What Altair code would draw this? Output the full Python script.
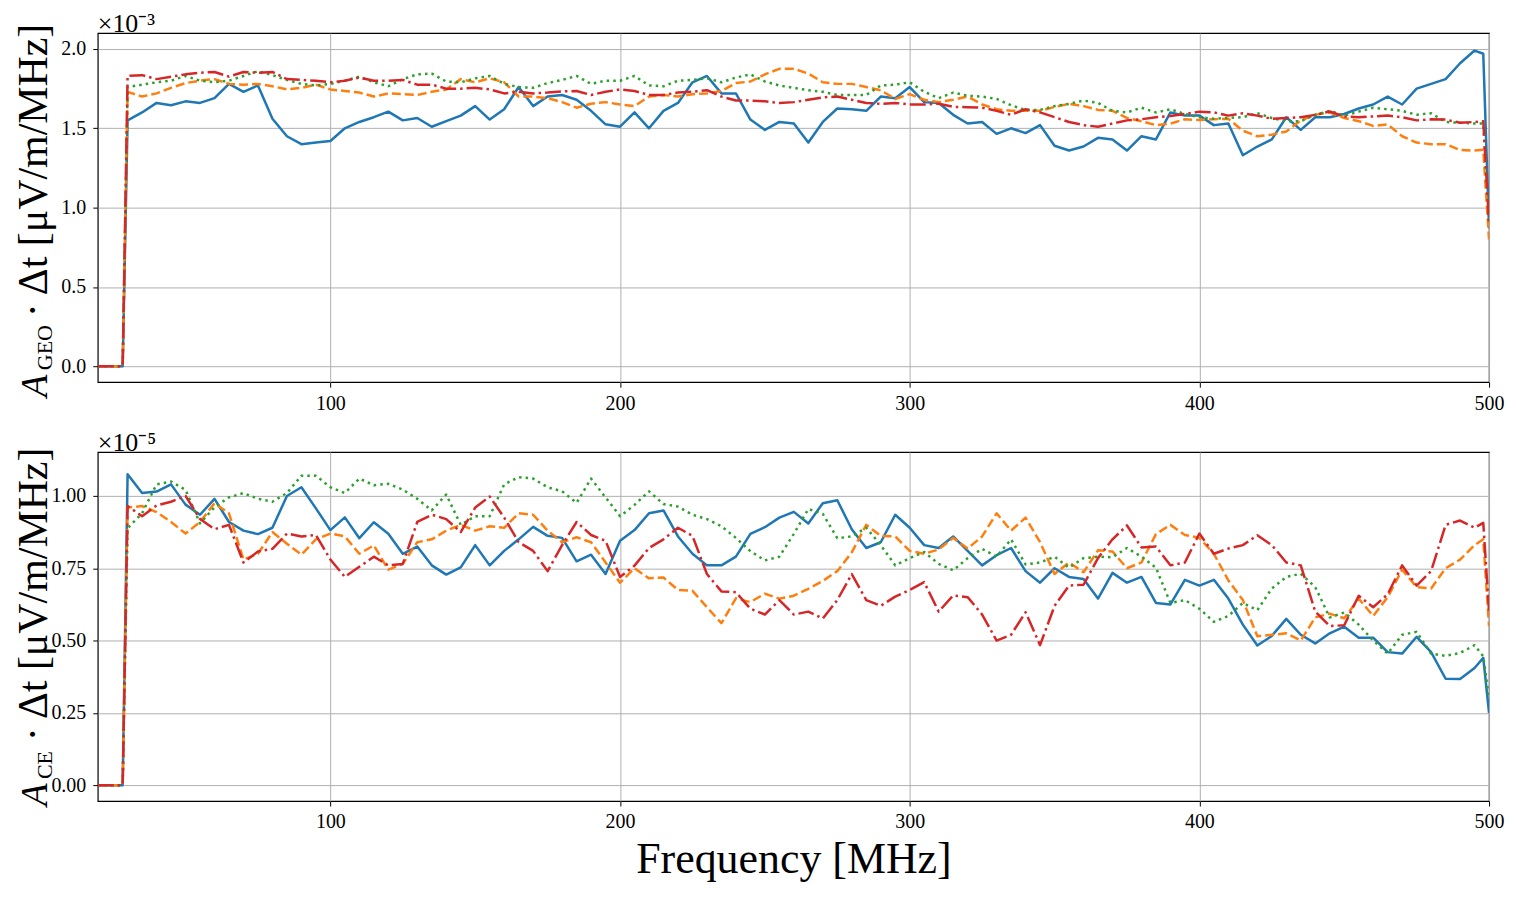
import altair as alt
import pandas as pd

# Frequency samples [MHz]
FREQ = [19.7, 22.5, 25.4, 28.3,
        30, 35, 40, 45, 50, 55, 60, 65, 70, 75,
        80, 85, 90, 95, 100, 105, 110, 115, 120, 125,
        130, 135, 140, 145, 150, 155, 160, 165, 170, 175,
        180, 185, 190, 195, 200, 205, 210, 215, 220, 225,
        230, 235, 240, 245, 250, 255, 260, 265, 270, 275,
        280, 285, 290, 295, 300, 305, 310, 315, 320, 325,
        330, 335, 340, 345, 350, 355, 360, 365, 370, 375,
        380, 385, 390, 395, 400, 405, 410, 415, 420, 425,
        430, 435, 440, 445, 450, 455, 460, 465, 470, 475,
        480, 485, 490, 495,
        498, 500]

# A_GEO * dt  (units of 1e-3 uV/m/MHz)
GEO_BLUE = [0, 0, 0, 0,
            1.55, 1.60, 1.66, 1.645, 1.67, 1.66, 1.69, 1.78, 1.73, 1.77,
            1.56, 1.45, 1.40, 1.41, 1.42, 1.50, 1.54, 1.57, 1.605, 1.55,
            1.565, 1.51, 1.545, 1.58, 1.64, 1.555, 1.62, 1.76, 1.64, 1.70,
            1.71, 1.68, 1.61, 1.525, 1.51, 1.60, 1.50, 1.61, 1.66, 1.79,
            1.83, 1.72, 1.72, 1.555, 1.49, 1.54, 1.53, 1.41, 1.54, 1.625,
            1.62, 1.61, 1.70, 1.69, 1.76, 1.665, 1.66, 1.585, 1.53, 1.54,
            1.465, 1.50, 1.47, 1.52, 1.39, 1.36, 1.385, 1.44, 1.43, 1.36,
            1.45, 1.43, 1.60, 1.58, 1.58, 1.52, 1.53, 1.33, 1.385, 1.43,
            1.57, 1.49, 1.57, 1.57, 1.59, 1.625, 1.65, 1.70, 1.65, 1.75,
            1.78, 1.81, 1.91, 1.99,
            1.97, 0.87]
GEO_ORANGE = [0, 0, 0, 0,
              1.73, 1.70, 1.72, 1.755, 1.785, 1.80, 1.81, 1.78, 1.775, 1.78,
              1.765, 1.745, 1.755, 1.775, 1.745, 1.735, 1.725, 1.70, 1.72, 1.715,
              1.71, 1.73, 1.745, 1.81, 1.79, 1.815, 1.79, 1.70, 1.70, 1.69,
              1.665, 1.63, 1.655, 1.665, 1.65, 1.64, 1.70, 1.71, 1.70, 1.715,
              1.72, 1.735, 1.785, 1.795, 1.84, 1.875, 1.875, 1.845, 1.79, 1.78,
              1.78, 1.76, 1.74, 1.685, 1.715, 1.68, 1.665, 1.68, 1.70, 1.65,
              1.62, 1.61, 1.61, 1.61, 1.635, 1.654, 1.64, 1.616, 1.61, 1.565,
              1.545, 1.52, 1.53, 1.557, 1.552, 1.557, 1.56, 1.485, 1.45, 1.46,
              1.48, 1.55, 1.585, 1.60, 1.565, 1.545, 1.515, 1.525, 1.45, 1.41,
              1.40, 1.40, 1.363, 1.36,
              1.365, 0.80]
GEO_GREEN = [0, 0, 0, 0,
             1.76, 1.775, 1.79, 1.80, 1.83, 1.80, 1.79, 1.80, 1.83, 1.86,
             1.835, 1.805, 1.78, 1.77, 1.78, 1.80, 1.825, 1.79, 1.765, 1.81,
             1.84, 1.845, 1.795, 1.79, 1.815, 1.83, 1.78, 1.76, 1.755, 1.785,
             1.805, 1.83, 1.78, 1.80, 1.80, 1.83, 1.77, 1.765, 1.80, 1.805,
             1.815, 1.79, 1.82, 1.84, 1.795, 1.77, 1.755, 1.74, 1.73, 1.71,
             1.71, 1.71, 1.77, 1.775, 1.79, 1.73, 1.69, 1.725, 1.705, 1.70,
             1.685, 1.645, 1.615, 1.616, 1.64, 1.654, 1.675, 1.66, 1.61, 1.60,
             1.63, 1.60, 1.62, 1.59, 1.57, 1.56, 1.566, 1.57, 1.595, 1.565,
             1.545, 1.545, 1.585, 1.61, 1.58, 1.605, 1.63, 1.62, 1.61, 1.585,
             1.595, 1.54, 1.535, 1.53,
             1.53, 0.90]
GEO_RED = [0, 0, 0, 0,
           1.83, 1.835, 1.81, 1.825, 1.84, 1.85, 1.855, 1.826, 1.855, 1.85,
           1.855, 1.81, 1.805, 1.80, 1.79, 1.80, 1.82, 1.80, 1.80, 1.805,
           1.775, 1.775, 1.75, 1.75, 1.755, 1.745, 1.72, 1.73, 1.72, 1.725,
           1.733, 1.735, 1.71, 1.73, 1.745, 1.735, 1.71, 1.71, 1.726, 1.73,
           1.74, 1.70, 1.675, 1.675, 1.67, 1.66, 1.665, 1.68, 1.695, 1.70,
           1.68, 1.66, 1.654, 1.66, 1.65, 1.65, 1.655, 1.635, 1.633, 1.63,
           1.61, 1.585, 1.62, 1.60, 1.57, 1.54, 1.52, 1.51, 1.53, 1.55,
           1.557, 1.57, 1.578, 1.59, 1.605, 1.60, 1.58, 1.595, 1.58, 1.56,
           1.565, 1.57, 1.585, 1.606, 1.575, 1.57, 1.575, 1.58, 1.57, 1.55,
           1.557, 1.555, 1.535, 1.54,
           1.545, 0.90]

# A_CE * dt  (units of 1e-5 uV/m/MHz)
CE_BLUE = [0, 0, 0, 0,
           1.075, 1.01, 1.015, 1.04, 0.97, 0.935, 0.99, 0.91, 0.88, 0.868,
           0.89, 1.00, 1.03, 0.957, 0.882, 0.926, 0.854, 0.909, 0.869, 0.80,
           0.825, 0.76, 0.728, 0.753, 0.83, 0.76, 0.81, 0.85, 0.893, 0.862,
           0.855, 0.774, 0.797, 0.73, 0.845, 0.882, 0.94, 0.95, 0.86, 0.80,
           0.76, 0.76, 0.79, 0.869, 0.892, 0.925, 0.945, 0.905, 0.975, 0.985,
           0.885, 0.82, 0.84, 0.935, 0.89, 0.83, 0.82, 0.86, 0.81, 0.76,
           0.795, 0.82, 0.74, 0.70, 0.75, 0.72, 0.713, 0.645, 0.734, 0.70,
           0.72, 0.63, 0.625, 0.71, 0.69, 0.71, 0.645, 0.555, 0.483, 0.516,
           0.575, 0.52, 0.49, 0.525, 0.548, 0.51, 0.51, 0.46, 0.455, 0.513,
           0.46, 0.368, 0.367, 0.405,
           0.44, 0.25]
CE_ORANGE = [0, 0, 0, 0,
             0.96, 0.965, 0.944, 0.91, 0.87, 0.91, 0.975, 0.94, 0.78, 0.80,
             0.875, 0.835, 0.797, 0.85, 0.87, 0.86, 0.80, 0.829, 0.745, 0.765,
             0.84, 0.85, 0.88, 0.90, 0.88, 0.895, 0.89, 0.94, 0.935, 0.88,
             0.84, 0.857, 0.84, 0.77, 0.70, 0.75, 0.715, 0.718, 0.675, 0.672,
             0.615, 0.56, 0.646, 0.633, 0.662, 0.645, 0.655, 0.679, 0.706, 0.74,
             0.805, 0.90, 0.862, 0.86, 0.81, 0.80, 0.815, 0.855, 0.818, 0.86,
             0.94, 0.88, 0.925, 0.84, 0.73, 0.77, 0.736, 0.812, 0.808, 0.75,
             0.77, 0.868, 0.90, 0.865, 0.855, 0.80, 0.708, 0.64, 0.515, 0.52,
             0.525, 0.50, 0.58, 0.593, 0.577, 0.645, 0.585, 0.65, 0.745, 0.685,
             0.68, 0.75, 0.78, 0.83,
             0.85, 0.55]
CE_GREEN = [0, 0, 0, 0,
            0.888, 0.94, 1.04, 1.05, 1.021, 0.905, 0.961, 0.995, 1.01, 0.99,
            0.98, 1.01, 1.07, 1.07, 1.03, 1.01, 1.06, 1.037, 1.042, 1.022,
            0.99, 0.95, 1.005, 0.90, 0.93, 0.93, 1.04, 1.065, 1.06, 1.03,
            1.016, 0.976, 1.06, 0.995, 0.93, 0.969, 1.016, 0.972, 0.963, 0.935,
            0.92, 0.895, 0.855, 0.809, 0.777, 0.79, 0.869, 0.955, 0.938, 0.854,
            0.86, 0.89, 0.83, 0.76, 0.785, 0.806, 0.765, 0.743, 0.785, 0.817,
            0.79, 0.85, 0.763, 0.77, 0.79, 0.752, 0.785, 0.79, 0.788, 0.82,
            0.79, 0.752, 0.63, 0.64, 0.61, 0.565, 0.585, 0.63, 0.605, 0.68,
            0.72, 0.731, 0.685, 0.58, 0.597, 0.555, 0.50, 0.455, 0.52, 0.53,
            0.455, 0.447, 0.457, 0.484,
            0.445, 0.30]
CE_RED = [0, 0, 0, 0,
          0.965, 0.93, 0.967, 0.98, 1.0, 0.92, 0.885, 0.90, 0.77, 0.808,
          0.817, 0.87, 0.86, 0.865, 0.78, 0.72, 0.755, 0.79, 0.76, 0.765,
          0.91, 0.935, 0.92, 0.875, 0.96, 0.998, 0.925, 0.84, 0.81, 0.74,
          0.83, 0.91, 0.865, 0.845, 0.72, 0.759, 0.82, 0.85, 0.89, 0.862,
          0.73, 0.67, 0.667, 0.61, 0.59, 0.64, 0.59, 0.60, 0.576, 0.64,
          0.73, 0.64, 0.62, 0.652, 0.675, 0.702, 0.60, 0.656, 0.65, 0.59,
          0.50, 0.52, 0.598, 0.484, 0.62, 0.69, 0.693, 0.785, 0.85, 0.898,
          0.822, 0.825, 0.76, 0.77, 0.87, 0.80, 0.818, 0.83, 0.864, 0.83,
          0.77, 0.76, 0.60, 0.55, 0.553, 0.655, 0.615, 0.66, 0.76, 0.69,
          0.74, 0.90, 0.915, 0.89,
          0.907, 0.60]

for s in (GEO_BLUE, GEO_ORANGE, GEO_GREEN, GEO_RED, CE_BLUE, CE_ORANGE, CE_GREEN, CE_RED):
    assert len(s) == len(FREQ), len(s)

COLORS = ["#1f77b4", "#ff7f0e", "#2ca02c", "#d62728"]
DASHES = [None, [9, 4], [2.5, 4.1], [16, 4, 2.5, 4]]
FONT = "Liberation Serif"
W, H = 1395, 350
XTICKS = [100, 200, 300, 400, 500]


def txt(t, x, y, size, style="normal", angle=270):
    return alt.Chart(pd.DataFrame({"t": [t]})).mark_text(
        angle=angle, align="left", baseline="alphabetic", font=FONT,
        fontSize=size, fontStyle=style, color="black"
    ).encode(text="t:N", x=alt.value(x), y=alt.value(y))


def label_layers(sub, a_y, exponent):
    return [
        txt("A", -51, a_y, 37, "italic"),
        txt(sub, -46, a_y - 27, 22),
        txt("· Δt [μV/m/MHz]", -51, a_y - 27 - len(sub) * 15 - 8, 42),
        txt(exponent, 0, -1, 26, angle=0),
    ]


def panel(series, ydom, yticks, yfmt, exponent, sub, a_y, xtitle):
    xaxis = alt.Axis(values=XTICKS, format="d", grid=True, gridColor="#b0b0b0",
                     gridWidth=1, domain=False, tickColor="black", tickSize=5,
                     labelFont=FONT, labelFontSize=20, labelColor="black",
                     labelPadding=6, labelFlush=False, titleFont=FONT,
                     titleFontSize=44, titleFontWeight="normal",
                     titleColor="black", titlePadding=6)
    yaxis = alt.Axis(values=yticks, format=yfmt, grid=True, gridColor="#b0b0b0",
                     gridWidth=1, domain=False, tickColor="black", tickSize=5,
                     labelFont=FONT, labelFontSize=20, labelColor="black",
                     labelPadding=7, labelFlush=False)
    layers = []
    for vals, color, dash in zip(series, COLORS, DASHES):
        df = pd.DataFrame({"freq": FREQ, "amp": vals})
        kw = dict(color=color, strokeWidth=2.5, clip=True, strokeJoin="round")
        if dash:
            kw["strokeDash"] = dash
        layers.append(
            alt.Chart(df).mark_line(**kw).encode(
                x=alt.X("freq:Q", title=xtitle, axis=xaxis,
                        scale=alt.Scale(domain=[19.7, 500], nice=False, zero=False)),
                y=alt.Y("amp:Q", title=None, axis=yaxis,
                        scale=alt.Scale(domain=ydom, nice=False, zero=False)),
            )
        )
    layers += label_layers(sub, a_y, exponent)
    return alt.layer(*layers).properties(width=W, height=H)


top = panel([GEO_BLUE, GEO_ORANGE, GEO_GREEN, GEO_RED], [-0.10, 2.10],
            [0.0, 0.5, 1.0, 1.5, 2.0], ".1f", "×10⁻³", "GEO", 365, None)
bottom = panel([CE_BLUE, CE_ORANGE, CE_GREEN, CE_RED], [-0.055, 1.152],
               [0.0, 0.25, 0.5, 0.75, 1.0], ".2f", "×10⁻⁵", "CE", 355, "Frequency [MHz]")

chart = alt.vconcat(top, bottom, spacing=15).configure_view(
    stroke="black", strokeWidth=1.2
).properties(padding={"left": 4, "top": 1, "right": 5, "bottom": 2})

chart.save("out.html", embed_options={"renderer": "svg", "actions": False})
